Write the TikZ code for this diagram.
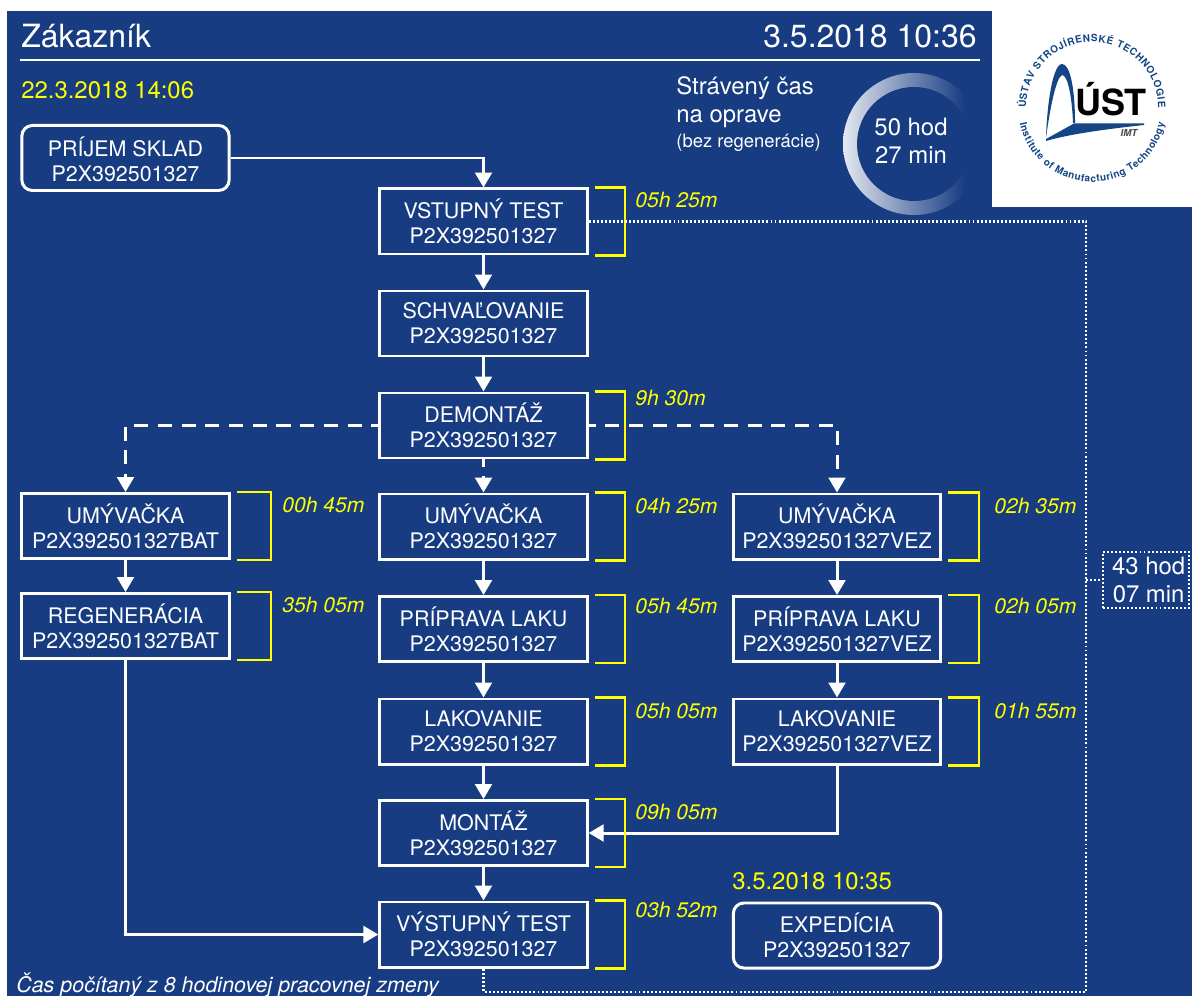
\documentclass[tikz,border=0pt]{standalone}
\usepackage{fontspec}
\setmainfont{TeX Gyre Heros}
\usetikzlibrary{arrows.meta,calc,decorations.text}
\definecolor{panelblue}{RGB}{23,60,130}
\definecolor{logoblue}{RGB}{20,70,135}
\definecolor{timeyellow}{RGB}{255,255,0}
\tikzset{
	stepbox/.style={draw=white, line width=1.7pt, text=white, minimum width=118pt, minimum height=37pt, align=center, inner sep=0pt, font=\fontsize{12.2}{14.2}\selectfont},
	endbox/.style={stepbox, rounded corners=6pt},
	flow/.style={draw=white, line width=1.7pt, -{Triangle[length=8.5pt,width=9.5pt]}},
	flowdash/.style={flow, dash pattern=on 8pt off 5.5pt, dash phase=4pt},
	sumline/.style={draw=white, line width=1.2pt, dash pattern=on 1.1pt off 1.2pt},
	bracketline/.style={draw=timeyellow, line width=1.3pt},
	timelabel/.style={text=timeyellow, anchor=west, inner sep=0pt, font=\fontsize{12}{14}\selectfont\itshape},
	datelabel/.style={text=timeyellow, anchor=west, inner sep=0pt, font=\fontsize{13.6}{16}\selectfont},
	whitelabel/.style={text=white, inner sep=0pt, align=left, font=\fontsize{13.6}{16.2}\selectfont},
	ringtext/.style={decorate, decoration={text along path, text align={fit to path}, text={|\fontsize{5.7}{6}\selectfont\bfseries\color{logoblue}|#1}}}
}
\def\timebracket[#1](#2){\draw[bracketline] ($(#2.north east)+(6,0)$) -- ++(#1,0) |- ($(#2.south east)+(6,0)$);}
\begin{document}
\begin{tikzpicture}[x=0.02cm,y=-0.02cm]
	\useasboundingbox (0,0) rectangle (1192,996);
	\fill[white] (0,0) rectangle (1192,996);
	\fill[panelblue] (7,11) rectangle (1192,996);

	%%%%% HEADER %%%%%
	\node[text=white, anchor=west, inner sep=0pt, font=\fontsize{18.2}{20}\selectfont] (zakaznik) at (21,36) {Zákazník};
	\node[text=white, anchor=east, inner sep=0pt, font=\fontsize{18.2}{20}\selectfont] (teraz) at (977,36) {3.5.2018 10:36};
	\draw[white, line width=1.2pt] (20,60) -- (980,60);
	\node[datelabel] (zaciatok) at (21,90) {22.3.2018 14:06};
	\node[whitelabel, anchor=north west] (straveny) at (676,76) {Strávený čas\\na oprave\\[-2pt]{\fontsize{10.5}{13}\selectfont (bez regenerácie)}};

	\begin{scope}
		\clip (914,144) circle (71);
		\shade[left color=white!88!panelblue, right color=panelblue] (843,73) rectangle (965,215);
	\end{scope}
	\fill[panelblue] (914,144) circle (57);
	\node[whitelabel, align=center] (celkom) at (911,141) {50 hod\\27 min};

	%%%%% LOGO %%%%%
	\fill[white] (992,11) rectangle (1192,207);
	\begin{scope}[shift={(1092,108)},y=0.02cm]
		\path[ringtext={ÚSTAV STROJÍRENSKÉ TECHNOLOGIE}] (180:66) arc (180:0:66);
		\path[ringtext={Institute of Manufacturing Technology}] (192:74) arc (192:348:74);
		\fill[logoblue] (-46,-30) .. controls (-45,5) and (-39,44) .. (-30,44) .. controls (-22,44) and (-17,20) .. (-17,-15) -- (-19,-15) .. controls (-20,10) and (-24,33) .. (-30,33) .. controls (-36,30) and (-42,0) .. (-46,-30) -- cycle;
		\fill[logoblue] (-46,-31) -- (-18,-15.5) -- (52,-15.5) -- (52,-17) .. controls (25,-20) and (-19,-25) .. (-46,-33) -- cycle;
		\node[text=black, anchor=base, inner sep=0pt, font=\fontsize{20.5}{22}\selectfont\bfseries] (logotext) at (19,-8) {ÚST};
		\node[text=black!70, inner sep=0pt, font=\fontsize{5.5}{6}\selectfont\bfseries\itshape] (logoimt) at (37,-25) {IMT};
	\end{scope}

	%%%%% STEPS %%%%%
	\node[endbox] (prijem) at (125.5,158) {\rule{0pt}{12.5pt}PRÍJEM SKLAD\\P2X392501327};
	\node[stepbox] (vstup) at (483.5,221.5) {VSTUPNÝ TEST\\P2X392501327};
	\node[stepbox] (schval) at (483.5,323.5) {SCHVAĽOVANIE\\P2X392501327};
	\node[stepbox] (demontaz) at (483.5,425.5) {DEMONTÁŽ\\P2X392501327};

	\node[stepbox] (umyvbat) at (125.5,526) {UMÝVAČKA\\P2X392501327BAT};
	\node[stepbox] (regen) at (125.5,626) {REGENERÁCIA\\P2X392501327BAT};

	\node[stepbox] (umyv) at (483.5,526.5) {UMÝVAČKA\\P2X392501327};
	\node[stepbox] (lakprip) at (483.5,629) {PRÍPRAVA LAKU\\P2X392501327};
	\node[stepbox] (lak) at (483.5,731.5) {LAKOVANIE\\P2X392501327};
	\node[stepbox] (montaz) at (483.5,833) {MONTÁŽ\\P2X392501327};
	\node[stepbox] (vystup) at (483.5,934.5) {VÝSTUPNÝ TEST\\P2X392501327};

	\node[stepbox] (umyvvez) at (837,526.5) {UMÝVAČKA\\P2X392501327VEZ};
	\node[stepbox] (lakpripvez) at (837,629) {PRÍPRAVA LAKU\\P2X392501327VEZ};
	\node[stepbox] (lakvez) at (837,731.5) {LAKOVANIE\\P2X392501327VEZ};
	\node[endbox] (expedicia) at (837,935.5) {EXPEDÍCIA\\P2X392501327};

	\node[datelabel] (koniec) at (732,881) {3.5.2018 10:35};
	\node[text=white, anchor=west, inner sep=0pt, font=\fontsize{12.2}{14}\selectfont\itshape] (pozn) at (16,985) {Čas počítaný z 8 hodinovej pracovnej zmeny};

	%%%%% ARROWS %%%%%
	\draw[flow] (prijem.east) -| (vstup.north);
	\draw[flow] (vstup) -- (schval);
	\draw[flow] (schval) -- (demontaz);
	\draw[flowdash] (demontaz) -- (umyv);
	\draw[flowdash] (demontaz.west) -| (umyvbat.north);
	\draw[flowdash] (demontaz.east) -| (umyvvez.north);
	\draw[flow] (umyvbat) -- (regen);
	\draw[flow] (regen.south) |- (vystup.west);
	\draw[flow] (umyv) -- (lakprip);
	\draw[flow] (lakprip) -- (lak);
	\draw[flow] (lak) -- (montaz);
	\draw[flow] (montaz) -- (vystup);
	\draw[flow] (umyvvez) -- (lakpripvez);
	\draw[flow] (lakpripvez) -- (lakvez);
	\draw[flow] (lakvez.south) |- (montaz.east);

	%%%%% TIMES %%%%%
	\timebracket[30](vstup)
	\timebracket[30](demontaz)
	\timebracket[34](umyvbat)
	\timebracket[34](regen)
	\timebracket[30](umyv)
	\timebracket[30](lakprip)
	\timebracket[30](lak)
	\timebracket[30](montaz)
	\timebracket[30](vystup)
	\timebracket[31](umyvvez)
	\timebracket[31](lakpripvez)
	\timebracket[31](lakvez)

	\node[timelabel] (tvstup) at (635,200) {05h 25m};
	\node[timelabel] (tdemontaz) at (635,398) {9h 30m};
	\node[timelabel] (tumyvbat) at (282,505) {00h 45m};
	\node[timelabel] (tregen) at (282,605) {35h 05m};
	\node[timelabel] (tumyv) at (635,506) {04h 25m};
	\node[timelabel] (tlakprip) at (635,606) {05h 45m};
	\node[timelabel] (tlak) at (635,711) {05h 05m};
	\node[timelabel] (tmontaz) at (635,812) {09h 05m};
	\node[timelabel] (tvystup) at (635,910) {03h 52m};
	\node[timelabel] (tumyvvez) at (994,506) {02h 35m};
	\node[timelabel] (tlakpripvez) at (994,606) {02h 05m};
	\node[timelabel] (tlakvez) at (994,711) {01h 55m};

	%%%%% SUM %%%%%
	\node[whitelabel, align=center, sumline, minimum width=49pt, minimum height=32pt] (suma) at (1146,580) {\hspace*{3pt}43 hod\\\hspace*{3pt}07 min};
	\coordinate (sumtop) at (1086,221.5);
	\coordinate (sumbot) at (1086,992);
	\coordinate (sumjoin) at (1086,580);
	\draw[sumline] (vstup.east) -- (sumtop) -- (sumbot) -| (vystup.south);
	\draw[sumline] (sumjoin) -- (suma.west);
\end{tikzpicture}
\end{document}
